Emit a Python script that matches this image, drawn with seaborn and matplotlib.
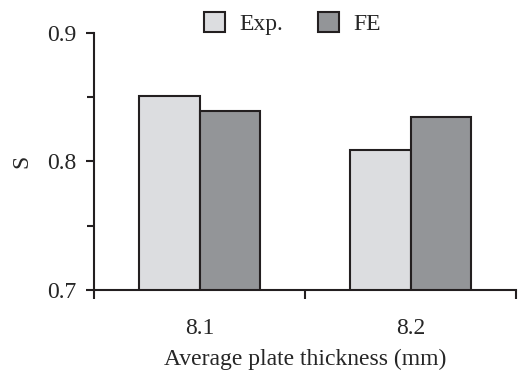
import numpy as np
import matplotlib
matplotlib.use("Agg")
import matplotlib.pyplot as plt
import pandas as pd
import seaborn as sns

thickness = ["8.1", "8.2"]
exp_values = [0.851, 0.809]
fe_values = [0.839, 0.835]
series_names = ["Exp.", "FE"]

df = pd.DataFrame({
    "Thickness": thickness * 2,
    "Type": [series_names[0]] * 2 + [series_names[1]] * 2,
    "S": exp_values + fe_values,
})

sns.set_style("ticks")
plt.rcParams["font.family"] = ["Liberation Serif", "DejaVu Serif"]

fig = plt.figure(figsize=(5.19, 3.78), dpi=100)
ax = fig.add_axes([94 / 519, 88 / 378, 422 / 519, 257 / 378])

sns.barplot(
    data=df, x="Thickness", y="S", hue="Type", ax=ax,
    width=0.57, palette={"Exp.": "#dcdde0", "FE": "#939598"},
    edgecolor="#231f20", linewidth=1.5, saturation=1, errorbar=None,
)

ax.set_xlim(-0.5, 1.5)
ax.set_ylim(0.7, 0.9)
ax.set_yticks([0.7, 0.8, 0.9])
ax.set_yticklabels(["0.7", "0.8", "0.9"])
ax.set_yticks([0.75, 0.85], minor=True)
ax.set_xticks([0, 1])
ax.set_xticks([-0.5, 0.5, 1.5], minor=True)
ax.tick_params(axis="x", which="major", length=0, pad=20, labelsize=17)
ax.tick_params(axis="x", which="minor", length=6.5, width=1.5, direction="out", color="#231f20")
ax.tick_params(axis="y", which="major", length=6, width=1.5, labelsize=17, pad=7, color="#231f20")
ax.tick_params(axis="y", which="minor", length=5, width=1.5, color="#231f20")

for side in ["top", "right"]:
    ax.spines[side].set_visible(False)
for side in ["left", "bottom"]:
    ax.spines[side].set_linewidth(1.5)
    ax.spines[side].set_color("#231f20")

ax.set_xlabel("Average plate thickness (mm)", fontsize=17, labelpad=7)
ax.set_ylabel("S", fontsize=17, labelpad=10)

ax.legend(loc="lower center", bbox_to_anchor=(0.47, 0.955), ncol=2, frameon=False,
          fontsize=17, handlelength=0.9, handleheight=0.9, columnspacing=1.5,
          handletextpad=0.6, borderaxespad=0)

fig.savefig("out.png", dpi=100)
